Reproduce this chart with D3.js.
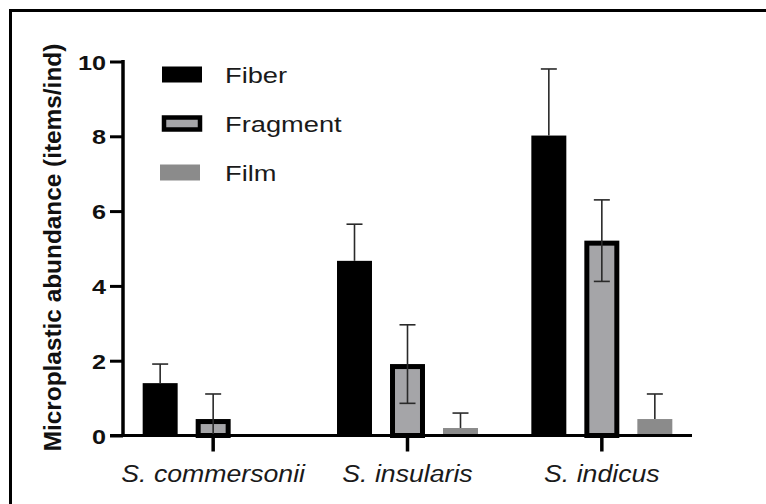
<!DOCTYPE html>
<html>
<head>
<meta charset="utf-8">
<script src="https://cdn.jsdelivr.net/npm/d3@7"></script>
<style>
  body { margin: 0; background: #fff; }
  svg { display: block; }
</style>
</head>
<body>
<div id="chart"></div>
<script>
// data
const species = ["S. commersonii", "S. insularis", "S. indicus"];
const types = ["Fiber", "Fragment", "Film"];
const fiber = [1.40, 4.67, 8.02];
const fiberErr = [0.51, 0.98, 1.78];
const fragment = [0.44, 1.91, 5.21];
const fragmentErr = [0.67, 1.05, 1.09];
const film = [0, 0.20, 0.44];
const filmErr = [0, 0.40, 0.67];
const yTicks = [0, 2, 4, 6, 8, 10];

const width = 766;
const height = 504;
const font = "'Liberation Sans', Arial, sans-serif";

const fills = { Fiber: "#000", Fragment: "#a5a5a8", Film: "#8b8b8b" };

const rows = [];
species.forEach((s, i) => {
  rows.push({ sp: s, type: "Fiber", v: fiber[i], e: fiberErr[i] });
  rows.push({ sp: s, type: "Fragment", v: fragment[i], e: fragmentErr[i] });
  rows.push({ sp: s, type: "Film", v: film[i], e: filmErr[i] });
});

// scales
const x0 = d3.scaleBand().domain(species).range([116, 699]);
const x1 = d3.scaleBand().domain(types).range([0, 159]).paddingInner(0.34).paddingOuter(0.17);
const y = d3.scaleLinear().domain([0, 10]).range([435.5, 61.5]);

function barX(d) {
  return x0(d.sp) + x0.bandwidth() / 2 - 79.5 + x1(d.type);
}

// the figure's lettering is stretched sideways, do the same with a scale
function widen(sel, k) {
  sel.each(function () {
    const t = d3.select(this);
    const tx = +t.attr("x") || 0;
    t.attr("x", 0).attr("transform", `translate(${tx},0) scale(${k},1)`);
  });
}

const svg = d3.select("#chart").append("svg")
  .attr("width", width)
  .attr("height", height);

// frame (cut off on the right and bottom)
svg.append("path")
  .attr("d", `M10.5,${height} V10.5 H${width}`)
  .attr("fill", "none")
  .attr("stroke", "#000")
  .attr("stroke-width", 3);

// bars
const bars = svg.append("g");
bars.selectAll("rect")
  .data(rows.filter(d => d.type !== "Fragment" && d.v > 0))
  .join("rect")
  .attr("x", d => barX(d))
  .attr("y", d => y(d.v))
  .attr("width", x1.bandwidth())
  .attr("height", d => y(0) - y(d.v))
  .attr("fill", d => fills[d.type]);

// fragment bars have a thick black outline
bars.selectAll("rect.frag")
  .data(rows.filter(d => d.type === "Fragment"))
  .join("rect")
  .attr("class", "frag")
  .attr("x", d => barX(d) + 2.5)
  .attr("y", d => y(d.v) + 2.5)
  .attr("width", x1.bandwidth() - 5)
  .attr("height", d => Math.max(0, y(0) - y(d.v) - 2.5))
  .attr("fill", fills.Fragment)
  .attr("stroke", "#000")
  .attr("stroke-width", 5);

// error bars
const err = svg.append("g")
  .attr("stroke", "#2a2a2a")
  .attr("stroke-width", 1.6)
  .attr("fill", "none");
rows.filter(d => d.e > 0).forEach(d => {
  const cx = barX(d) + x1.bandwidth() / 2;
  const hi = d.v + d.e;
  const lo = d.type === "Fragment" ? Math.max(0, d.v - d.e) : d.v;
  err.append("line")
    .attr("x1", cx).attr("x2", cx)
    .attr("y1", y(hi)).attr("y2", y(lo));
  err.append("line")
    .attr("x1", cx - 8).attr("x2", cx + 8)
    .attr("y1", y(hi)).attr("y2", y(hi));
  if (d.type === "Fragment" && lo > 0) {
    err.append("line")
      .attr("x1", cx - 8).attr("x2", cx + 8)
      .attr("y1", y(lo)).attr("y2", y(lo));
  }
});

// y axis
const yAxis = svg.append("g")
  .attr("transform", "translate(123,0)")
  .call(d3.axisLeft(y).tickValues(yTicks).tickSize(13).tickPadding(4).tickSizeOuter(0));
yAxis.select(".domain").attr("stroke-width", 3.5).attr("d", `M0,${y(10) - 1.5}V${y(0)}`);
yAxis.selectAll(".tick line").attr("stroke-width", 3);
yAxis.selectAll(".tick text")
  .attr("font-family", font)
  .attr("font-weight", "bold")
  .attr("font-size", 21)
  .attr("fill", "#111")
  .attr("dy", "0.36em")
  .call(widen, 1.2);

// x axis
const xAxis = svg.append("g")
  .attr("transform", `translate(0,${y(0)})`)
  .call(d3.axisBottom(x0).tickSize(16).tickPadding(10).tickSizeOuter(0));
xAxis.select(".domain").attr("stroke-width", 3).attr("d", "M110,0H692");
xAxis.selectAll(".tick line").attr("stroke-width", 3.5);
xAxis.selectAll(".tick text")
  .attr("font-family", font)
  .attr("font-style", "italic")
  .attr("font-size", 23)
  .attr("fill", "#1a1a1a")
  .attr("dy", "0.9em")
  .call(widen, 1.16);

// y axis title
svg.append("text")
  .attr("transform", "translate(61,247.5) rotate(-90) scale(1.06,1)")
  .attr("text-anchor", "middle")
  .attr("font-family", font)
  .attr("font-weight", "bold")
  .attr("font-size", 23)
  .attr("fill", "#111")
  .text("Microplastic abundance (items/ind)");

// legend
const legendY = d3.scalePoint().domain(types).range([74.5, 172.5]);
const legend = svg.append("g");
types.forEach(t => {
  const g = legend.append("g").attr("transform", `translate(0,${legendY(t)})`);
  if (t === "Fragment") {
    g.append("rect")
      .attr("x", 164).attr("y", -6).attr("width", 36).attr("height", 12)
      .attr("fill", fills.Fragment).attr("stroke", "#000").attr("stroke-width", 4.5);
  } else {
    g.append("rect")
      .attr("x", t === "Film" ? 160 : 162).attr("y", -8).attr("width", 40).attr("height", 16)
      .attr("fill", fills[t]);
  }
  g.append("text")
    .attr("x", 225)
    .attr("y", 8)
    .attr("font-family", font)
    .attr("font-size", 22)
    .attr("fill", "#1a1a1a")
    .text(t)
    .call(widen, 1.24);
});
</script>
</body>
</html>
